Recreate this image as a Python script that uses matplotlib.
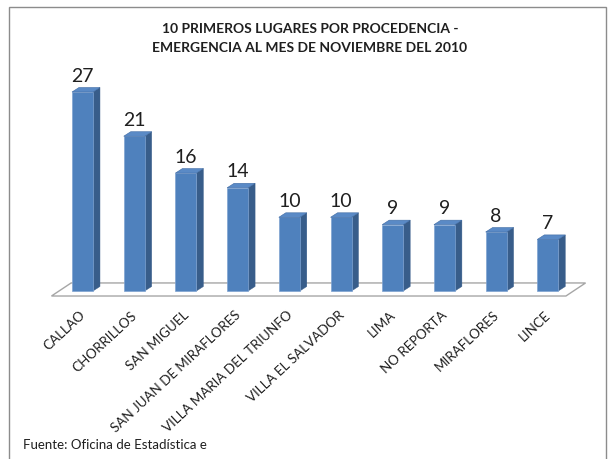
import matplotlib
matplotlib.use("Agg")
import matplotlib.pyplot as plt
from matplotlib.patches import Polygon, Rectangle

categories = ["CALLAO", "CHORRILLOS", "SAN MIGUEL", "SAN JUAN DE MIRAFLORES",
              "VILLA MARIA DEL TRIUNFO", "VILLA EL SALVADOR", "LIMA",
              "NO REPORTA", "MIRAFLORES", "LINCE"]
values = [27, 21, 16, 14, 10, 10, 9, 9, 8, 7]
title_lines = ["10 PRIMEROS LUGARES POR PROCEDENCIA -",
               "EMERGENCIA AL MES DE NOVIEMBRE DEL 2010"]
footer = "Fuente: Oficina de Estadística e"

FONT = ["Lato", "DejaVu Sans"]
FRONT = "#4F81BD"
SIDE = "#385D8A"
TOP = "#5A8AC6"
TXT = "#1F1F1F"

W, H = 613, 459
fig = plt.figure(figsize=(W / 100, H / 100), dpi=100)
fig.patch.set_facecolor("white")

# outer border of the chart area
fig.patches.append(Rectangle((9 / W, -0.05), (606 - 9) / W, (1.05 - 7 / H),
                             transform=fig.transFigure, fill=False,
                             edgecolor="#8C8C8C", linewidth=1.0))

ax = fig.add_axes([48.9 / W, 0.34996, (586.6 - 48.9) / W, 0.49776])
ax.set_xlim(-0.65, 9.75)
ax.set_ylim(-1, 30)
ax.axis("off")

bw = 0.406      # bar front width
ddx, ddy = 0.135, 0.61   # bar depth offsets
n = len(values)

# floor
fx0, fx1 = -0.6, n - 1 + 0.35
fdx, fdy = 0.38, 1.77
fy = -0.68
floor = Polygon([(fx0, fy), (fx1, fy), (fx1 + fdx, fy + fdy), (fx0 + fdx, fy + fdy)],
                closed=True, facecolor="white", edgecolor="#A6A6A6", linewidth=1.0,
                zorder=1)
ax.add_patch(floor)

xs = list(range(n))
ax.bar(xs, values, width=bw, color=FRONT, edgecolor="#7FA3D1", linewidth=0.5, zorder=3)
for x, v in zip(xs, values):
    r = x + bw / 2
    l = x - bw / 2
    ax.add_patch(Polygon([(r, 0), (r + ddx, ddy), (r + ddx, v + ddy), (r, v)],
                         closed=True, facecolor=SIDE, edgecolor=SIDE, linewidth=0.3, zorder=2))
    ax.add_patch(Polygon([(l, v), (r, v), (r + ddx, v + ddy), (l + ddx, v + ddy)],
                         closed=True, facecolor=TOP, edgecolor="#3E6AA3", linewidth=0.4, zorder=4))
    ax.text(x, v + 1.4, str(v), ha="center", va="baseline", fontsize=14,
            color=TXT, family=FONT, zorder=5)

for x, c in zip(xs, categories):
    ax.text(x - 0.06, -2.45, c, rotation=43, rotation_mode="anchor",
            ha="right", va="top", fontsize=9.6, color=TXT, family=FONT,
            clip_on=False)

fig.text(310 / W, 1 - 33 / H, title_lines[0], ha="center", va="baseline",
         fontsize=10, fontweight="bold", color=TXT, family=FONT)
fig.text(310 / W, 1 - 51.5 / H, title_lines[1], ha="center", va="baseline",
         fontsize=10, fontweight="bold", color=TXT, family=FONT)

fig.text(23 / W, 1 - 449 / H, footer, ha="left", va="baseline",
         fontsize=9.5, color=TXT, family=FONT)

fig.savefig("out.png", dpi=100, facecolor="white")
